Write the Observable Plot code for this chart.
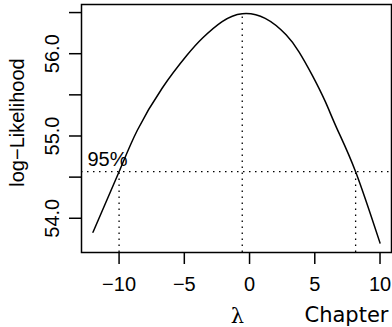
<!DOCTYPE html>
<html><head><meta charset="utf-8">
<script src="https://cdn.jsdelivr.net/npm/d3@7"></script>
<script src="https://cdn.jsdelivr.net/npm/@observablehq/plot@0.6"></script>
<style>body{margin:0;background:#fff}</style>
</head><body><div id="chart"></div>
<script>
// Box-Cox profile log-likelihood
const lambda = [-12, -10, -8.6, -6.7, -4.8, -3.6, -2.1, -0.56, 1.2, 2.8, 3.8, 4.8, 5.8, 6.7, 8.13, 10];
const logLik = [53.83, 54.566, 55.07, 55.58, 55.98, 56.19, 56.39, 56.486, 56.43, 56.23, 56.02, 55.74, 55.42, 55.09, 54.566, 53.70];
const lambdaHat = [-0.56];
const maxLogLik = [56.486];
const ciLambda = [-10.0, 8.13];
const ciLevel = [54.566];
const ciText = ["95%"];
const xTicks = [-10, -5, 0, 5, 10];
const yTicks = [54, 54.5, 55, 55.5, 56, 56.5];
const yTickLabels = [54, 55, 56];
const xLabel = ["λ"];
const yLabel = ["log−Likelihood"];
const subLabel = ["Chapter"];

const data = lambda.map((l, i) => ({lambda: l, ll: logLik[i]}));
const xDom = [-12.88, 10.88];
const yDom = [53.584, 56.598];
const minusFmt = d => d < 0 ? "\u2212" + Math.abs(d) : String(d);

const chart = Plot.plot({
  width: 392, height: 327,
  marginLeft: 81, marginRight: 1, marginTop: 4, marginBottom: 75,
  style: {fontFamily: "'Liberation Sans', Arial, sans-serif", fontSize: "20px", background: "white", color: "black", overflow: "visible"},
  x: {domain: xDom},
  y: {domain: yDom},
  marks: [
    Plot.ruleY(ciLevel, {stroke: "black", strokeWidth: 1.3, strokeDasharray: "1.5,4.5"}),
    Plot.ruleX(ciLambda, {y1: yDom[0], y2: ciLevel[0], stroke: "black", strokeWidth: 1.3, strokeDasharray: "1.5,4.5"}),
    Plot.ruleX(lambdaHat, {y1: yDom[0], y2: maxLogLik[0], stroke: "black", strokeWidth: 1.3, strokeDasharray: "1.5,4.5"}),
    Plot.line(data, {x: "lambda", y: "ll", curve: "natural", stroke: "black", strokeWidth: 1.5}),
    Plot.text(ciText, {text: d => d, y: ciLevel, frameAnchor: "left", dx: 6, dy: -6, textAnchor: "start", lineAnchor: "bottom", fontSize: 20}),
    Plot.frame({stroke: "black", strokeWidth: 1.5}),
    Plot.axisX({ticks: xTicks, tickSize: 12, tickPadding: 12, tickFormat: minusFmt, label: null, strokeWidth: 1.5, fontSize: 20}),
    Plot.axisY({ticks: yTicks, tickSize: 12, tickFormat: () => "", label: null, strokeWidth: 1.5}),
    Plot.text(yTickLabels, {y: d => d, text: d => d.toFixed(1), frameAnchor: "left", dx: -22.5, rotate: -90, textAnchor: "middle", lineAnchor: "bottom", fontSize: 20}),
    Plot.text(yLabel, {text: d => d, frameAnchor: "left", dx: -58, dy: -6, rotate: -90, textAnchor: "middle", lineAnchor: "bottom", fontSize: 20}),
    Plot.text(xLabel, {text: d => d, frameAnchor: "bottom", dx: 1, dy: 70, textAnchor: "middle", lineAnchor: "bottom", fontSize: 21, fontFamily: "'DejaVu Serif', serif"}),
    Plot.text(subLabel, {text: d => d, frameAnchor: "bottom-right", dx: -3, dy: 69, textAnchor: "end", lineAnchor: "bottom", fontSize: 21, fontFamily: "'DejaVu Sans', sans-serif"})
  ]
});
document.getElementById("chart").appendChild(chart);
</script>
</body></html>
